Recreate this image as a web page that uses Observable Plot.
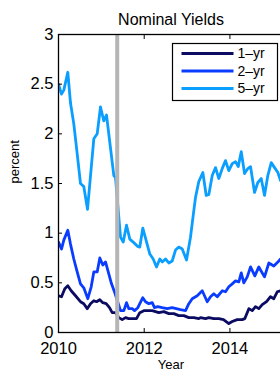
<!DOCTYPE html>
<html>
<head>
<meta charset="utf-8">
<script src="https://cdn.jsdelivr.net/npm/d3@7"></script>
<script src="https://cdn.jsdelivr.net/npm/@observablehq/plot@0.6"></script>
<style>
  html, body { margin: 0; padding: 0; background: #fff; overflow: hidden; width: 280px; height: 373px; }
  #chart { width: 290px; }
  #chart svg { display: block; max-width: none !important; width: 290px !important; height: 373px !important; }
</style>
</head>
<body>
<div id="chart"></div>
<script>
// ---- data ----
const seriesNames = ["1–yr", "2–yr", "5–yr"];
const seriesColors = ["#0b0b62", "#0a3cff", "#0a9eff"];

const yr1Dates = [2010.00,2010.07,2010.147,2010.217,2010.296,2010.397,2010.513,2010.59,2010.67,2010.747,2010.824,2010.887,2010.964,2011.034,2011.113,2011.19,2011.253,2011.33,2011.407,2011.487,2011.564,2011.641,2011.743,2011.82,2011.897,2011.991,2012.07,2012.187,2012.264,2012.341,2012.457,2012.574,2012.691,2012.807,2012.924,2013.041,2013.158,2013.274,2013.314,2013.431,2013.508,2013.624,2013.741,2013.85,2013.974,2014.054,2014.17,2014.287,2014.348,2014.441,2014.521,2014.597,2014.674,2014.754,2014.854,2014.947,2015.024,2015.104,2015.181,2015.24];
const yr1Values = [0.37,0.36,0.44,0.47,0.42,0.37,0.31,0.29,0.24,0.29,0.32,0.31,0.33,0.30,0.29,0.25,0.20,0.20,0.15,0.13,0.15,0.14,0.14,0.14,0.20,0.22,0.22,0.22,0.21,0.20,0.21,0.19,0.19,0.17,0.17,0.15,0.15,0.14,0.15,0.14,0.15,0.14,0.14,0.13,0.09,0.11,0.13,0.13,0.14,0.24,0.22,0.26,0.24,0.28,0.31,0.36,0.34,0.41,0.42,0.45];

const yr2Dates = [2010.00,2010.07,2010.124,2010.217,2010.28,2010.357,2010.436,2010.513,2010.59,2010.684,2010.763,2010.824,2010.903,2010.964,2011.034,2011.097,2011.237,2011.314,2011.447,2011.524,2011.587,2011.641,2011.72,2011.774,2011.851,2011.967,2012.03,2012.107,2012.187,2012.24,2012.317,2012.42,2012.537,2012.65,2012.847,2012.964,2013.041,2013.12,2013.237,2013.354,2013.47,2013.547,2013.624,2013.704,2013.82,2013.897,2013.974,2014.054,2014.131,2014.208,2014.264,2014.324,2014.404,2014.481,2014.581,2014.674,2014.807,2014.908,2015.024,2015.141,2015.181,2015.24];
const yr2Values = [0.91,0.84,0.93,1.03,0.89,0.74,0.61,0.49,0.45,0.34,0.46,0.61,0.61,0.75,0.68,0.71,0.49,0.40,0.22,0.22,0.30,0.24,0.24,0.22,0.25,0.35,0.31,0.29,0.30,0.25,0.26,0.25,0.24,0.25,0.23,0.22,0.29,0.34,0.37,0.42,0.31,0.36,0.39,0.36,0.42,0.41,0.46,0.49,0.52,0.51,0.60,0.50,0.56,0.66,0.57,0.66,0.56,0.70,0.67,0.72,0.74,0.75];

const yr5Dates = [2010.00,2010.07,2010.124,2010.217,2010.28,2010.357,2010.436,2010.513,2010.59,2010.677,2010.824,2010.903,2010.98,2011.057,2011.12,2011.291,2011.33,2011.447,2011.51,2011.587,2011.664,2011.743,2011.837,2011.897,2011.967,2012.131,2012.21,2012.287,2012.364,2012.42,2012.497,2012.574,2012.653,2012.73,2012.807,2012.887,2012.987,2013.08,2013.158,2013.197,2013.274,2013.368,2013.447,2013.508,2013.587,2013.664,2013.741,2013.82,2013.897,2013.974,2014.054,2014.131,2014.194,2014.264,2014.341,2014.418,2014.481,2014.574,2014.651,2014.73,2014.807,2014.884,2014.964,2015.041,2015.118,2015.181,2015.24];
const yr5Values = [2.50,2.40,2.44,2.62,2.31,2.10,1.80,1.50,1.47,1.24,1.95,2.00,2.27,2.13,2.19,1.58,1.56,0.96,0.91,1.08,0.94,0.91,0.87,0.86,1.05,0.79,0.74,0.66,0.74,0.71,0.74,0.70,0.72,0.83,0.86,0.84,0.73,0.96,1.23,1.36,1.52,1.61,1.38,1.39,1.58,1.66,1.55,1.65,1.73,1.63,1.70,1.72,1.67,1.82,1.60,1.65,1.67,1.41,1.51,1.55,1.38,1.58,1.71,1.66,1.61,1.53,1.50];

const eventDate = 2011.37;          // grey vertical marker
const xDomain = [2010, 2015.25];
const yDomain = [0, 3];
const xTicks = [2010, 2012, 2014];
const yTicks = [0, 0.5, 1, 1.5, 2, 2.5, 3];
const yTickLabels = ["0", "0.5", "1", "1.5", "2", "2.5", "3"];

// ---- build tables ----
const toRows = (dates, values) => dates.map((d, i) => ({date: d, value: values[i]}));
const rows1 = toRows(yr1Dates, yr1Values);
const rows2 = toRows(yr2Dates, yr2Values);
const rows5 = toRows(yr5Dates, yr5Values);

const W = 290, H = 373;
const lineW = 2.8;

const chart = Plot.plot({
  width: W,
  height: H,
  marginLeft: 58,
  marginRight: 7,
  marginTop: 34,
  marginBottom: 41,
  style: {fontFamily: "'Liberation Sans', Arial, Helvetica, sans-serif", fontSize: "16.5px", background: "#fff", color: "#000", maxWidth: "none"},
  x: {domain: xDomain, ticks: xTicks},
  y: {domain: yDomain, ticks: yTicks},
  marks: [
    Plot.line(rows5, {x: "date", y: "value", stroke: seriesColors[2], strokeWidth: lineW, clip: true}),
    Plot.line(rows2, {x: "date", y: "value", stroke: seriesColors[1], strokeWidth: lineW, clip: true}),
    Plot.line(rows1, {x: "date", y: "value", stroke: seriesColors[0], strokeWidth: lineW, clip: true}),
    Plot.ruleX([eventDate], {stroke: "#b5b5b5", strokeWidth: 4}),
    Plot.axisY({anchor: "left", ticks: yTicks, tickSize: -4, tickPadding: 9, tickFormat: (d, i) => yTickLabels[i], label: null}),
    Plot.axisY({anchor: "right", ticks: yTicks, tickSize: -4, tickFormat: () => "", label: null}),
    Plot.axisX({anchor: "bottom", ticks: xTicks, tickSize: -4, tickPadding: 14, tickFormat: d3.format("d"), label: null}),
    Plot.axisX({anchor: "top", ticks: xTicks, tickSize: -4, tickFormat: () => "", label: null}),
    Plot.frame({stroke: "#000", strokeWidth: 1.3}),
    Plot.text(["Nominal Yields"], {frameAnchor: "top", dy: -21, fontSize: 16}),
    Plot.text(["Year"], {frameAnchor: "bottom", dy: 36, fontSize: 13}),
    Plot.text(["percent"], {frameAnchor: "left", dx: -44, rotate: -90, fontSize: 13})
  ]
});

document.getElementById("chart").appendChild(chart);

// ---- legend (box in the upper right of the axes) ----
const svg = d3.select(chart);
const lg = svg.append("g").attr("transform", "translate(172.5,43.5)");
lg.append("rect").attr("width", 105).attr("height", 57).attr("fill", "#fff").attr("stroke", "#000").attr("stroke-width", 1.2);
seriesNames.forEach((name, i) => {
  const yy = 10 + i * 17.5;
  lg.append("line").attr("x1", 9).attr("x2", 61).attr("y1", yy).attr("y2", yy)
    .attr("stroke", seriesColors[i]).attr("stroke-width", lineW);
  lg.append("text").attr("x", 65).attr("y", yy).attr("dy", "0.35em")
    .attr("text-anchor", "start")
    .attr("font-size", 14).attr("fill", "#000").text(name);
});
</script>
</body>
</html>
